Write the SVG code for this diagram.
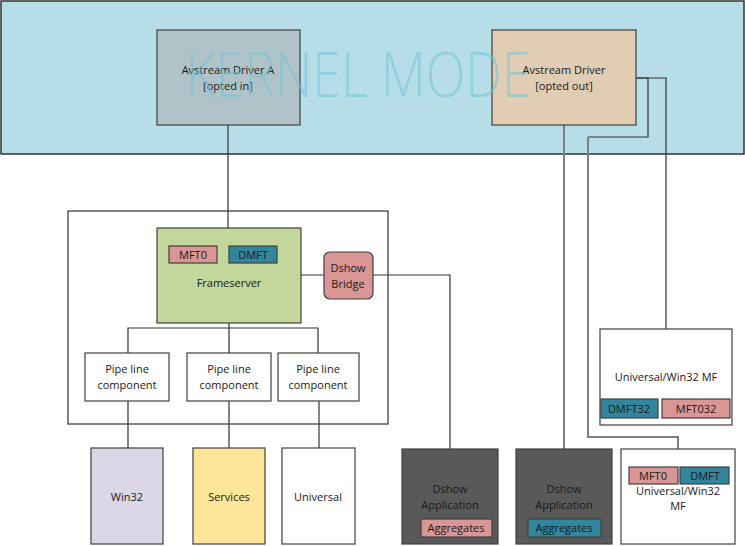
<svg xmlns="http://www.w3.org/2000/svg" width="745" height="546" viewBox="0 0 745 546">
<style>
text{font-family:"Open Sans","DejaVu Sans",sans-serif;font-size:11px;fill:#1a1a1a;text-anchor:middle}
.box{stroke:#404040;stroke-width:1.2}
.ln{fill:none;stroke:#333;stroke-width:1.2}
.lg{fill:none;stroke:#7f7f7f;stroke-width:2}
.salmon{fill:#d99694}
.teal{fill:#31859c}
</style>
<rect width="745" height="546" fill="#fff"/>
<g id="kernel">
<rect x="1" y="1" width="743" height="153" fill="#b7dde8" stroke="#333" stroke-width="1.5"/>
</g>
<g id="connectors">
<path class="ln" d="M228,125V228"/>
<path class="lg" d="M564,125V449"/>
<path class="ln" d="M636,78H648V137H588"/>
<path class="lg" d="M588,137V437H678V449"/>
<path class="ln" d="M636,78H666V329"/>
<path class="ln" d="M229,323V353M128,353V328H318V353"/>
<path class="ln" d="M301,275H324M373,275H450V449"/>
<path class="ln" d="M128,401V449M229,401V449M319,401V449"/>
</g>
<g id="driverA">
<rect class="box" x="157" y="30" width="143" height="95" fill="#b0c3c8"/>
<text x="228" y="74">Avstream Driver A</text>
<text x="228" y="90">[opted in]</text>
</g>
<g id="driverB">
<rect class="box" x="492" y="30" width="144" height="95" fill="#e0cdb4"/>
<text x="564" y="74">Avstream Driver</text>
<text x="564" y="90">[opted out]</text>
</g>
<text x="358" y="97" font-weight="300" textLength="345" lengthAdjust="spacingAndGlyphs" style="font-size:62px;fill:#6cc3d6;fill-opacity:0.5">KERNEL MODE</text>
<g id="container">
<rect x="68" y="211" width="320" height="213" fill="none" stroke="#333" stroke-width="1.2"/>
</g>
<g id="frameserver">
<rect class="box" x="157" y="228" width="144" height="95" fill="#c3d69b"/>
<rect class="box salmon" x="169" y="246" width="48" height="17"/>
<text x="193" y="259">MFT0</text>
<rect class="box teal" x="229" y="246" width="48" height="17"/>
<text x="253" y="259">DMFT</text>
<text x="229" y="287">Frameserver</text>
</g>
<g id="bridge">
<rect class="box salmon" x="324" y="252" width="49" height="47" rx="6"/>
<text x="348" y="272">Dshow</text>
<text x="348" y="288">Bridge</text>
</g>
<g id="pipe1">
<rect class="box" x="85" y="353" width="84" height="48" fill="#fff"/>
<text x="127" y="373">Pipe line</text>
<text x="127" y="389">component</text>
</g>
<g id="pipe2">
<rect class="box" x="187" y="353" width="84" height="48" fill="#fff"/>
<text x="229" y="373">Pipe line</text>
<text x="229" y="389">component</text>
</g>
<g id="pipe3">
<rect class="box" x="278" y="353" width="81" height="48" fill="#fff"/>
<text x="318" y="373">Pipe line</text>
<text x="318" y="389">component</text>
</g>
<g id="win32">
<rect class="box" x="91" y="448" width="72" height="96" fill="#dcd7e6"/>
<text x="127" y="501">Win32</text>
</g>
<g id="services">
<rect class="box" x="193" y="448" width="72" height="96" fill="#fee599"/>
<text x="229" y="501">Services</text>
</g>
<g id="universal">
<rect class="box" x="282" y="448" width="73" height="96" fill="#fff"/>
<text x="318" y="501">Universal</text>
</g>
<g id="dshow1">
<rect class="box" x="402" y="449" width="96" height="95" fill="#595959"/>
<text x="450" y="493">Dshow</text>
<text x="450" y="509">Application</text>
<rect class="box salmon" x="421" y="519" width="71" height="18"/>
<text x="456" y="532">Aggregates</text>
</g>
<g id="dshow2">
<rect class="box" x="516" y="449" width="96" height="95" fill="#595959"/>
<text x="564" y="493">Dshow</text>
<text x="564" y="509">Application</text>
<rect class="box teal" x="528" y="519" width="73" height="18"/>
<text x="564" y="532">Aggregates</text>
</g>
<g id="mf1">
<rect class="box" x="600" y="329" width="132" height="96" fill="#fff"/>
<text x="666" y="381">Universal/Win32 MF</text>
<rect class="box teal" x="601" y="399" width="57" height="19"/>
<text x="629" y="413">DMFT32</text>
<rect class="box salmon" x="662" y="399" width="68" height="19"/>
<text x="696" y="413">MFT032</text>
</g>
<g id="mf2">
<rect class="box" x="621" y="449" width="114" height="95" fill="#fff"/>
<text x="678" y="495">Universal/Win32</text>
<text x="678" y="510">MF</text>
<rect class="box salmon" x="629" y="467" width="49" height="17"/>
<text x="653" y="480">MFT0</text>
<rect class="box teal" x="680" y="467" width="49" height="17"/>
<text x="705" y="480">DMFT</text>
</g>
</svg>
